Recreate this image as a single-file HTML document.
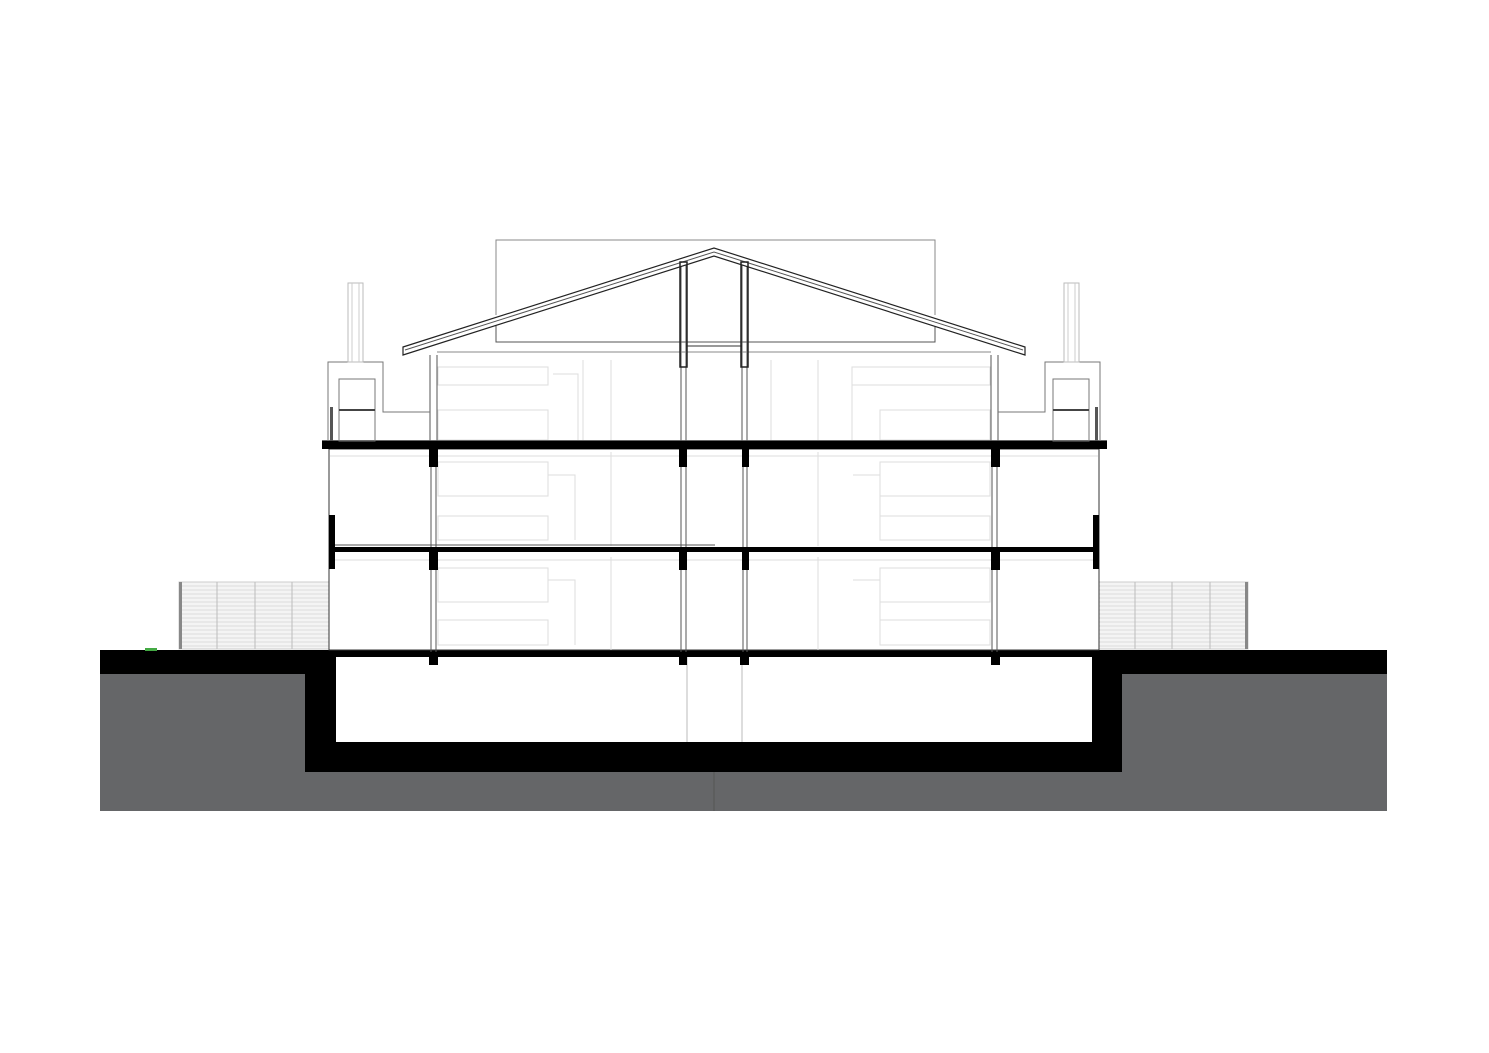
<!DOCTYPE html>
<html><head><style>body{margin:0;background:#fff}svg{display:block}</style></head>
<body>
<svg width="1489" height="1053" viewBox="0 0 1489 1053" xmlns="http://www.w3.org/2000/svg">
<rect width="1489" height="1053" fill="#fff"/>
<!-- ground -->
<rect x="100" y="673" width="1287" height="138" fill="#656668"/>
<rect x="100" y="650" width="1287" height="24" fill="#000"/>
<rect x="305" y="650" width="817" height="122" fill="#000"/>
<rect x="336" y="657" width="756" height="85" fill="#fff"/>
<line x1="687" y1="657" x2="687" y2="742" stroke="#bbb" stroke-width="1"/>
<line x1="742" y1="657" x2="742" y2="742" stroke="#bbb" stroke-width="1"/>
<line x1="714" y1="772" x2="714" y2="811" stroke="#555" stroke-width="1"/>
<!-- fences -->
<g stroke="#ccc" stroke-width="1">
<rect x="179" y="582" width="150" height="67" fill="#f4f4f4"/>
<rect x="1099" y="582" width="149" height="67" fill="#f4f4f4"/>
</g>
<g stroke="#ddd" stroke-width="1">
<path d="M179 586H329M179 590H329M179 594H329M179 598H329M179 602H329M179 606H329M179 610H329M179 614H329M179 618H329M179 622H329M179 626H329M179 630H329M179 634H329M179 638H329M179 642H329M179 646H329"/>
<path d="M1099 586H1248M1099 590H1248M1099 594H1248M1099 598H1248M1099 602H1248M1099 606H1248M1099 610H1248M1099 614H1248M1099 618H1248M1099 622H1248M1099 626H1248M1099 630H1248M1099 634H1248M1099 638H1248M1099 642H1248M1099 646H1248"/>
</g>
<g stroke="#bbb"><path d="M217 582V649M255 582V649M292 582V649M1135 582V649M1172 582V649M1210 582V649"/></g>
<rect x="179" y="582" width="3" height="67" fill="#888"/>
<rect x="1245" y="582" width="3" height="67" fill="#888"/>
<rect x="145" y="648" width="12" height="3" fill="#4a4"/>
<!-- building outline -->
<rect x="329" y="449" width="770" height="201" fill="#fff" stroke="#333" stroke-width="1"/>
<!-- interior faint -->
<g stroke="#ddd" stroke-width="1" fill="none">
<path d="M438 462H548V496H438ZM438 516H548V540H438ZM438 568H548V602H438ZM438 620H548V645H438Z"/>
<path d="M880 462H990V496H880ZM880 516H990V540H880ZM880 568H990V602H880ZM880 620H990V645H880Z"/>
<path d="M548 475H575V540M548 580H575V645M853 475H880V540M853 580H880V645"/>
<path d="M611 452V546M611 557V650M818 452V546M818 557V650M330 456H1098M330 560H1098"/>
<path d="M438 367H548V385H438ZM438 410H548V440H438ZM553 374H578V441M583 360V441M852 367H990V385H852ZM880 410H990V440H880ZM852 374V441M771 360V441M818 360V441M611 360V441"/>
</g>
<!-- slabs -->
<rect x="322" y="441" width="785" height="8" fill="#000"/>
<rect x="322" y="440" width="785" height="1" fill="#666"/>
<rect x="329" y="547" width="770" height="5" fill="#000"/>
<rect x="329" y="652" width="770" height="5" fill="#000"/>
<line x1="329" y1="545" x2="715" y2="545" stroke="#555"/>
<!-- wall black pieces -->
<rect x="329" y="515" width="6" height="54" fill="#000"/>
<rect x="1093" y="515" width="6" height="54" fill="#000"/>
<!-- beams & columns -->
<g fill="#000">
<rect x="429" y="449" width="9" height="18"/><rect x="679" y="449" width="8" height="18"/><rect x="742" y="449" width="7" height="18"/><rect x="991" y="449" width="9" height="18"/>
<rect x="429" y="552" width="9" height="18"/><rect x="679" y="552" width="8" height="18"/><rect x="742" y="552" width="7" height="18"/><rect x="991" y="552" width="9" height="18"/>
<rect x="429" y="657" width="9" height="8"/><rect x="679" y="657" width="8" height="8"/><rect x="740" y="657" width="9" height="8"/><rect x="991" y="657" width="9" height="8"/>
</g>
<g stroke="#555" stroke-width="1" fill="none">
<path d="M431 467V547M436 467V547M681 467V547M686 467V547M743 467V547M747 467V547M992 467V547M997 467V547"/>
<path d="M431 570V652M436 570V652M681 570V652M686 570V652M743 570V652M747 570V652M992 570V652M997 570V652"/>
<path d="M430 355V441M437 355V441M681 262V441M686 262V441M742 262V441M747 262V441M991 355V441M998 355V441"/>
</g>
<!-- roof -->
<path d="M496 315V240H935V315" fill="none" stroke="#888"/>
<path d="M496 320V342H935V320" fill="none" stroke="#555"/>
<path d="M686 346H742" stroke="#333"/>
<path d="M403 347L714 248L1025 347V355L714 256L403 355Z" fill="#fff" stroke="#222" stroke-width="1.2"/>
<path d="M405 350L714 252L1023 350" fill="none" stroke="#555"/>
<line x1="437" y1="352" x2="991" y2="352" stroke="#888"/>
<rect x="680" y="262" width="7" height="105" fill="none" stroke="#222" stroke-width="1.5"/>
<rect x="741" y="262" width="7" height="105" fill="none" stroke="#222" stroke-width="1.5"/>
<!-- chimneys -->
<g fill="none" stroke="#777">
<path d="M328 441V362H383V412H430"/><path d="M1100 441V362H1045V412H998"/>
<rect x="339" y="379" width="36" height="62"/><rect x="1053" y="379" width="36" height="62"/>
<rect x="348" y="283" width="15" height="79" stroke="#bbb"/><rect x="1064" y="283" width="15" height="79" stroke="#bbb"/>
<path d="M352 283V362M359 283V362M1068 283V362M1075 283V362" stroke="#ccc"/>
</g>
<rect x="339" y="409" width="36" height="2" fill="#444"/><rect x="1053" y="409" width="36" height="2" fill="#444"/>
<rect x="330" y="407" width="3" height="34" fill="#555"/><rect x="1095" y="407" width="3" height="34" fill="#555"/>
</svg>
</body></html>
